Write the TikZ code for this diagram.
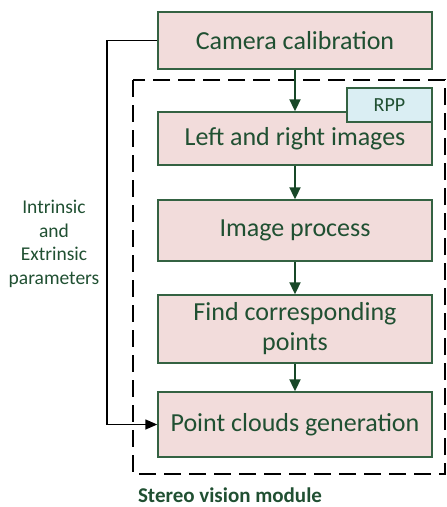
\documentclass[tikz,border=0pt]{standalone}
\usepackage{fontspec}
\setmainfont{Carlito}
\usetikzlibrary{arrows.meta}

\definecolor{txtgreen}{RGB}{32,80,50}
\definecolor{boxedge}{RGB}{52,98,66}
\definecolor{boxfill}{RGB}{242,220,219}
\definecolor{rppfill}{RGB}{218,238,243}
\definecolor{flowgreen}{RGB}{24,72,40}

\begin{document}
\begin{tikzpicture}[x=1pt,y=-1pt,
  stage/.style={draw=boxedge,line width=1.4pt,fill=boxfill,minimum width=274pt,
    inner sep=0pt,text=txtgreen,font=\fontsize{26}{30}\selectfont,align=center},
  tag/.style={draw=boxedge,line width=1.4pt,fill=rppfill,minimum width=85pt,
    minimum height=34pt,inner sep=0pt,text=txtgreen,font=\fontsize{20}{24}\selectfont},
  flow/.style={draw=flowgreen,line width=2pt,-{Triangle[length=12pt,width=11pt]}},
  feed/.style={draw=black,line width=1.4pt,-{Triangle[length=12pt,width=10pt]}},
  module/.style={draw=black,line width=2.5pt,dash pattern=on 17pt off 8pt}]

\useasboundingbox (0,0) rectangle (447,507);

% stereo vision module frame
\draw[module] (133,80) rectangle (445,474);

% processing stages
\node[stage,minimum height=57pt] (cam) at (295,40.5) {Camera calibration};
\node[stage,minimum height=53pt] (lr) at (295,138.5) {\raisebox{-2pt}{Left and right images}};
\node[tag] (rpp) at (389.5,105) {RPP};
\node[stage,minimum height=61pt] (ip) at (295,230.5) {Image process};
\node[stage,minimum height=68pt] (fcp) at (295,329) {Find corresponding\\points};
\node[stage,minimum height=65pt] (pc) at (295,424.5) {Point clouds generation};

% main flow
\draw[flow] (cam) -- (lr);
\draw[flow] (lr) -- (ip);
\draw[flow] (ip) -- (fcp);
\draw[flow] (fcp) -- (pc);

% calibration parameters fed to the last stage
\coordinate (bend) at (107,0);
\draw[feed] (cam.west) -- (cam.west -| bend) -- (pc.west -| bend) -- (pc.west);

\node[text=txtgreen,font=\fontsize{19.5}{23.5}\selectfont,align=center] (params) at (54,244)
  {Intrinsic\\and\\Extrinsic\\parameters};

\node[text=txtgreen,font=\bfseries\fontsize{21}{25}\selectfont] (label) at (230,495.5)
  {Stereo vision module};
\end{tikzpicture}
\end{document}
